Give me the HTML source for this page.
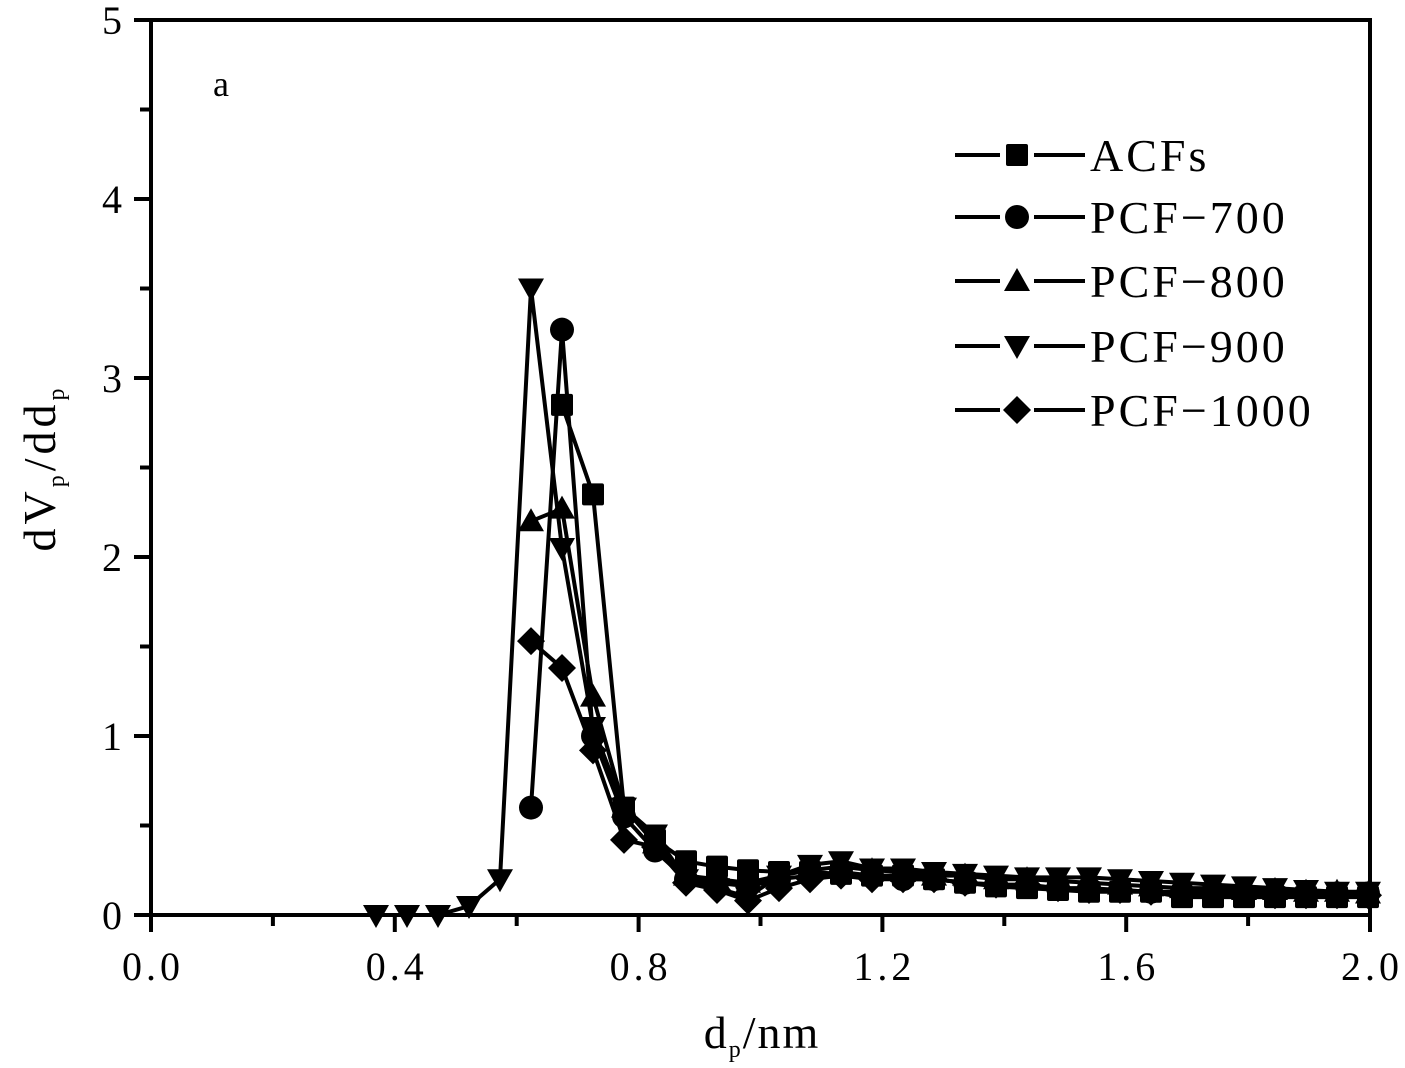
<!DOCTYPE html>
<html><head><style>body{margin:0;background:#fff}svg{display:block}text{font-family:"Liberation Serif",serif;fill:#000}</style></head>
<body>
<svg id="s" width="1405" height="1068" xmlns="http://www.w3.org/2000/svg">
<rect x="151" y="20" width="1219" height="895" fill="none" stroke="#000" stroke-width="4"/>
<g id="ax"></g>
<g id="data"></g>
<text x="213" y="96" font-size="36">a</text>
<text x="762" y="1048" font-size="46" text-anchor="middle" letter-spacing="2">d<tspan font-size="24" dy="9">p</tspan><tspan dy="-9">/nm</tspan></text>
<text transform="translate(55,468) rotate(-90)" font-size="46" text-anchor="middle" letter-spacing="4">dV<tspan font-size="24" dy="9">p</tspan><tspan dy="-9">/dd</tspan><tspan font-size="24" dy="9">p</tspan></text>
<g id="leg"></g>
</svg>
<script>
const NS="http://www.w3.org/2000/svg";
function el(p,t,a,txt){const e=document.createElementNS(NS,t);for(const k in a)e.setAttribute(k,a[k]);if(txt!==undefined)e.textContent=txt;p.appendChild(e);return e;}
const ax=document.getElementById('ax'),dg=document.getElementById('data'),lg=document.getElementById('leg');
const X=v=>151+609.5*v, Y=v=>915-179*v;
for(let i=0;i<=10;i++){const x=X(i*0.2);el(ax,'line',{x1:x,x2:x,y1:915,y2:i%2==0?932:926,stroke:'#000','stroke-width':4});
 if(i%2==0)el(ax,'text',{x:x+2,y:980,'font-size':40,'text-anchor':'middle','letter-spacing':4},(i*0.2).toFixed(1));}
for(let i=0;i<=10;i++){const y=Y(i*0.5);el(ax,'line',{x1:151,x2:i%2==0?134:140,y1:y,y2:y,stroke:'#000','stroke-width':4});
 if(i%2==0)el(ax,'text',{x:122,y:y+14,'font-size':40,'text-anchor':'end'},String(i/2));}
const px=k=>531+31*k;
const series=[
 {m:'sq',k0:1,v:[2.85,2.35,0.6,0.42,0.3,0.27,0.25,0.24,0.24,0.23,0.22,0.22,0.2,0.18,0.16,0.15,0.14,0.13,0.13,0.13,0.1,0.1,0.1,0.1,0.1,0.1,0.1]},
 {m:'ci',k0:0,v:[0.6,3.27,1.0,0.55,0.36,0.2,0.18,0.16,0.2,0.22,0.24,0.22,0.2,0.2,0.18,0.17,0.16,0.15,0.15,0.14,0.13,0.13,0.13,0.12,0.12,0.12,0.12,0.12]},
 {m:'up',k0:0,v:[2.2,2.27,1.22,0.6,0.4,0.22,0.2,0.18,0.22,0.25,0.27,0.25,0.24,0.22,0.22,0.2,0.2,0.19,0.18,0.17,0.16,0.15,0.15,0.14,0.14,0.13,0.13,0.12]},
 {m:'dn',k0:-5,v:[0,0,0,0.05,0.2,3.5,2.05,1.05,0.6,0.45,0.2,0.15,0.1,0.22,0.28,0.3,0.26,0.26,0.24,0.23,0.22,0.21,0.21,0.21,0.2,0.19,0.18,0.17,0.16,0.15,0.14,0.13,0.13]},
 {m:'di',k0:0,v:[1.53,1.38,0.92,0.42,0.38,0.18,0.14,0.08,0.15,0.2,0.22,0.2,0.2,0.2,0.18,0.17,0.17,0.15,0.14,0.14,0.13,0.12,0.12,0.12,0.11,0.11,0.11,0.11]}
];
function mk(g,m,x,y){
 if(m=='sq')el(g,'rect',{x:x-11,y:y-11,width:22,height:22,rx:2});
 else if(m=='ci')el(g,'circle',{cx:x,cy:y,r:12});
 else if(m=='up')el(g,'polygon',{points:`${x},${y-13} ${x+13},${y+10} ${x-13},${y+10}`});
 else if(m=='dn')el(g,'polygon',{points:`${x},${y+13} ${x+13},${y-10} ${x-13},${y-10}`});
 else el(g,'polygon',{points:`${x},${y-14} ${x+14},${y} ${x},${y+14} ${x-14},${y}`});
}
series.forEach(s=>{
 const pts=s.v.map((v,i)=>[px(s.k0+i),Y(v)]);
 el(dg,'polyline',{points:pts.map(p=>p.join(',')).join(' '),fill:'none',stroke:'#000','stroke-width':4});
 pts.forEach(p=>mk(dg,s.m,p[0],p[1]));
});
const names=['ACFs','PCF\u2212700','PCF\u2212800','PCF\u2212900','PCF\u22121000'];
const ms=['sq','ci','up','dn','di'];const ly=[155,217,281,346,410];
names.forEach((n,i)=>{el(lg,'line',{x1:955,x2:1000,y1:ly[i],y2:ly[i],stroke:'#000','stroke-width':4});
 el(lg,'line',{x1:1034,x2:1085,y1:ly[i],y2:ly[i],stroke:'#000','stroke-width':4});mk(lg,ms[i],1017,ly[i]);
 el(lg,'text',{x:1090,y:ly[i]+16,'font-size':46,'letter-spacing':'3'},n);});
</script>
</body></html>
